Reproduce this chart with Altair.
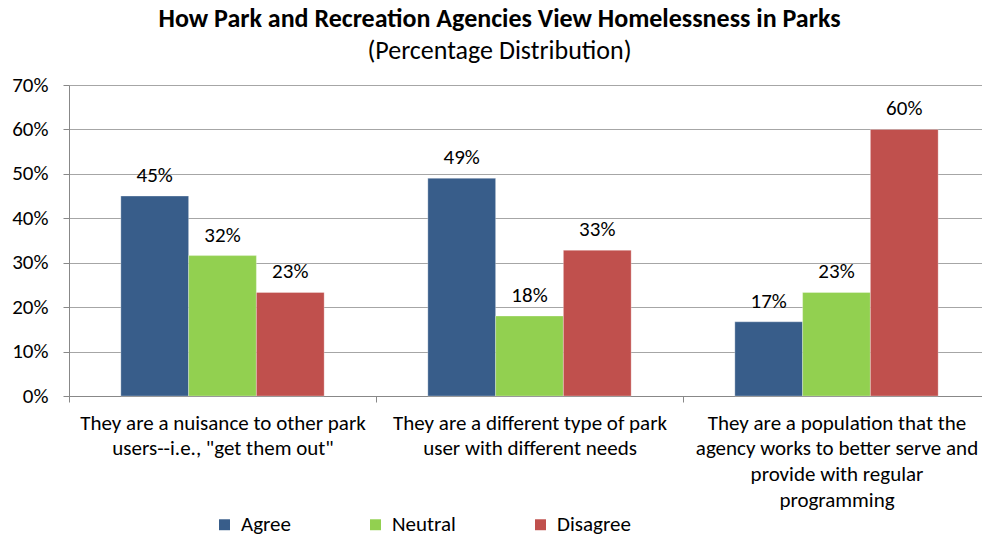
import altair as alt
import pandas as pd

categories = [
    "They are a nuisance to other park\nusers--i.e., \"get them out\"",
    "They are a different type of park\nuser with different needs",
    "They are a population that the\nagency works to better serve and\nprovide with regular\nprogramming",
]
series = ["Agree", "Neutral", "Disagree"]
agree = [0.45, 0.49, 0.167]
neutral = [0.316, 0.18, 0.233]
disagree = [0.233, 0.328, 0.60]
colors = ["#385D8A", "#92D050", "#C0504D"]
y_ticks = [0, 0.1, 0.2, 0.3, 0.4, 0.5, 0.6, 0.7]

rows = []
for name, vals in zip(series, [agree, neutral, disagree]):
    for c, v in zip(categories, vals):
        rows.append({"category": c, "series": name, "value": v})
df = pd.DataFrame(rows)

FONT = "Carlito, Liberation Sans, sans-serif"

base = alt.Chart(df).encode(
    x=alt.X(
        "category:N",
        sort=categories,
        scale=alt.Scale(paddingInner=0, paddingOuter=0, range=[0, 921]),
        axis=alt.Axis(
            title=None,
            labelAngle=0,
            labelExpr="split(datum.label, '\\n')",
            labelFontSize=21,
            labelFont=FONT,
            labelColor="#000000",
            labelLineHeight=25.7,
            labelPadding=10,
            labelBaseline="top",
            labelLimit=0,
            tickBand="extent",
            tickSize=6,
            tickColor="#888888",
            domainColor="#888888",
            grid=False,
        ),
    ),
    xOffset=alt.XOffset(
        "series:N", sort=series, scale=alt.Scale(paddingInner=0, paddingOuter=0.765)
    ),
    y=alt.Y(
        "value:Q",
        scale=alt.Scale(domain=[0, 0.7], nice=False),
        axis=alt.Axis(
            title=None,
            values=y_ticks,
            format=".0%",
            labelFontSize=21,
            labelFont=FONT,
            labelColor="#000000",
            labelPadding=15,
            tickSize=6,
            tickColor="#888888",
            domainColor="#888888",
            gridColor="#a6a6a6",
            grid=True,
        ),
    ),
)

bars = base.mark_bar(stroke="#ffffff", strokeWidth=0.3).encode(
    color=alt.Color(
        "series:N",
        sort=series,
        scale=alt.Scale(domain=series, range=colors),
        legend=alt.Legend(
            title=None,
            orient="none",
            legendX=145,
            legendY=429,
            direction="horizontal",
            symbolType="square",
            symbolSize=120,
            symbolStrokeWidth=0,
            labelFontSize=21,
            labelFont=FONT,
            labelColor="#000000",
            columnPadding=74,
            labelOffset=6,
            labelLimit=0,
        ),
    )
)

labels = base.mark_text(
    baseline="bottom", dy=-10, fontSize=21, font=FONT, color="#000000"
).encode(text=alt.Text("value:Q", format=".0%"))

chart = (
    alt.layer(bars, labels)
    .properties(
        width=913,
        height=311,
        autosize=alt.AutoSizeParams(type="none"),
        padding={"left": 69, "top": 85, "right": 0, "bottom": 142},
        title=alt.TitleParams(
            text="How Park and Recreation Agencies View Homelessness in Parks",
            subtitle="(Percentage Distribution)",
            font=FONT,
            fontSize=26,
            fontWeight="bold",
            color="#000000",
            subtitleFont=FONT,
            subtitleFontSize=26,
            subtitleColor="#000000",
            subtitlePadding=6,
            anchor="middle",
            dx=-26,
            offset=10,
        ),
    )
    .configure_view(stroke=None)
    .configure(background="#ffffff")
)

chart.save("out.html", embed_options={"renderer": "svg", "actions": False})
